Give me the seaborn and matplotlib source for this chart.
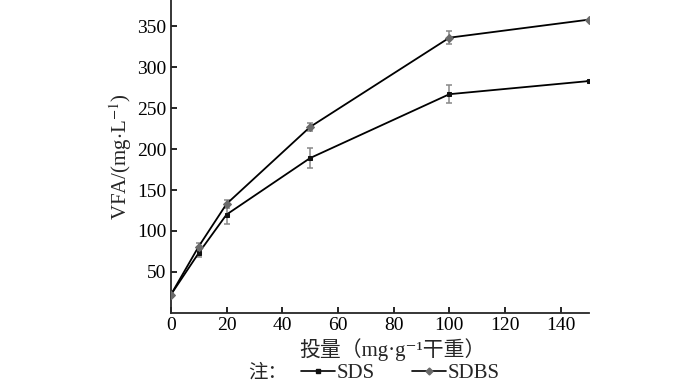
import matplotlib
matplotlib.use('Agg')
import matplotlib.pyplot as plt
import pandas as pd
import seaborn as sns
from matplotlib.lines import Line2D

# data
dose = [0, 10, 20, 50, 100, 150]
sds = [22, 73, 120, 189, 267, 283]
sds_err = [0, 5, 12, 12, 11, 0]
sdbs = [22, 81, 133, 227, 336, 358]
sdbs_err = [0, 4, 5, 5, 8, 0]

x_ticks = [0, 20, 40, 60, 80, 100, 120, 140]
y_ticks = [50, 100, 150, 200, 250, 300, 350]

sns.set_style('ticks')
serif_cjk = ['Liberation Serif', 'Noto Sans CJK SC', 'DejaVu Serif']
plt.rcParams['font.family'] = serif_cjk
plt.rcParams['mathtext.fontset'] = 'stix'
plt.rcParams['xtick.direction'] = 'in'
plt.rcParams['ytick.direction'] = 'in'

df = pd.DataFrame({
    'dose': dose * 2,
    'vfa': sds + sdbs,
    'err': sds_err + sdbs_err,
    'agent': ['SDS'] * len(dose) + ['SDBS'] * len(dose),
})

fig = plt.figure(figsize=(7, 3.82), dpi=100)
ax = fig.add_axes([0.244, 0.181, 0.597, 0.819])

for agent, grp in df.groupby('agent'):
    ax.errorbar(grp['dose'], grp['vfa'], yerr=grp['err'], fmt='none',
                ecolor='#888888', elinewidth=1.1, capsize=2.5, capthick=1.1, zorder=2)

sns.lineplot(data=df, x='dose', y='vfa', hue='agent', style='agent',
             palette={'SDS': 'black', 'SDBS': 'black'},
             markers={'SDS': 's', 'SDBS': 'D'}, dashes=False,
             linewidth=1.3, ax=ax, legend=False, zorder=3)
for l in ax.lines:
    if l.get_marker() == 'D':
        l.set_markerfacecolor('#6a6a6a')
        l.set_markeredgecolor('#6a6a6a')
        l.set_markersize(4)
    elif l.get_marker() == 's':
        l.set_markerfacecolor('#111111')
        l.set_markeredgecolor('#111111')
        l.set_markersize(3)

ax.set_xlim(0, 150)
ax.set_ylim(0, 382)
ax.set_xticks(x_ticks)
ax.set_yticks(y_ticks)
ax.tick_params(labelsize=14, length=4, width=1.2, colors='black', pad=3)
for s in ['left', 'bottom']:
    ax.spines[s].set_linewidth(1.3)
sns.despine(ax=ax)

ax.set_ylabel(r'VFA/(mg$\cdot$L$^{-1}$)', fontsize=15, labelpad=2)
ax.set_xlabel('投量（mg·g⁻¹干重）', fontsize=15, labelpad=3)
ax.xaxis.label.set_x(0.53)

fig.text(0.355, 0.025, '注：', fontsize=14, ha='left', va='center',
         family=['Noto Sans CJK SC', 'Liberation Serif'])
handles = [
    Line2D([], [], color='black', marker='s', markersize=3, lw=1.2,
           markerfacecolor='#111111', markeredgecolor='#111111'),
    Line2D([], [], color='black', marker='D', markersize=3.5, lw=1.2,
           markerfacecolor='#6a6a6a', markeredgecolor='#6a6a6a'),
]
fig.legend(handles, ['SDS', 'SDBS'], loc='center', bbox_to_anchor=(0.572, 0.022),
           ncol=2, frameon=False, fontsize=15, handlelength=1.6,
           handletextpad=0.1, columnspacing=1.8, borderpad=0)

fig.savefig('out.png', dpi=100)
